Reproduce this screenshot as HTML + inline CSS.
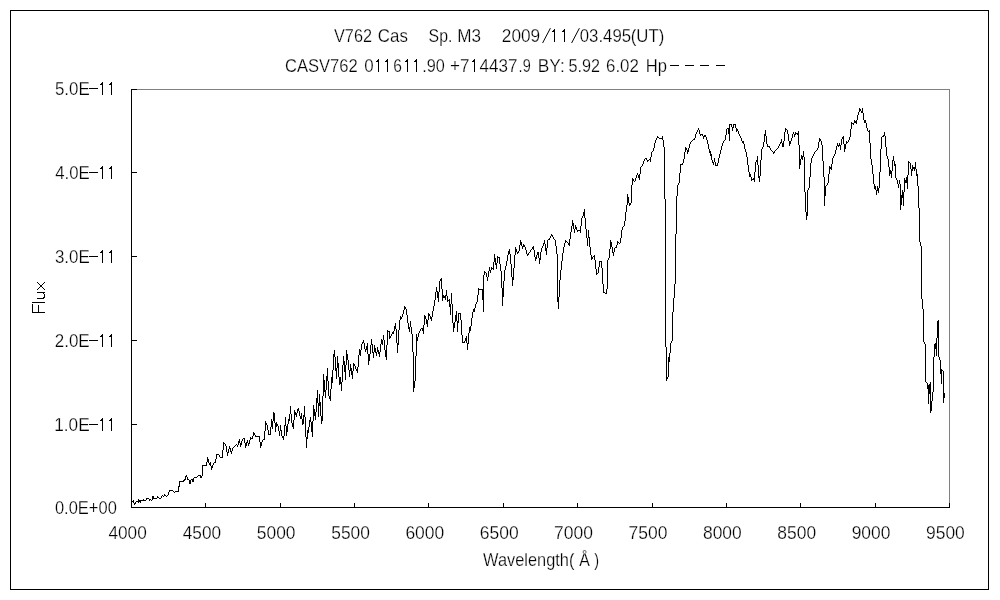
<!DOCTYPE html>
<html><head><meta charset="utf-8"><title>V762 Cas spectrum</title>
<style>
html,body{margin:0;padding:0;background:#fff;}
body{width:1000px;height:600px;overflow:hidden;font-family:"Liberation Sans",sans-serif;}
svg{display:block;}
text{font-family:"Liberation Sans",sans-serif;fill:#000;stroke:#fff;stroke-width:0.25px;}
</style></head><body>
<svg width="1000" height="600" viewBox="0 0 1000 600">
<rect x="0" y="0" width="1000" height="600" fill="#fff"/>
<!-- outer frame -->
<rect x="10.5" y="10.5" width="978" height="579" fill="none" stroke="#000" stroke-width="1" shape-rendering="crispEdges"/>
<!-- plot frame: gray top/right, black left/bottom -->
<rect x="131" y="89" width="819" height="1" fill="#808080"/>
<rect x="949" y="89" width="1" height="419" fill="#808080"/>
<rect x="131" y="89" width="1" height="419" fill="#000"/>
<rect x="131" y="507" width="819" height="1" fill="#000"/>
<rect x="132" y="89" width="5" height="1" fill="#000"/><rect x="132" y="172" width="5" height="1" fill="#000"/><rect x="132" y="256" width="5" height="1" fill="#000"/><rect x="132" y="340" width="5" height="1" fill="#000"/><rect x="132" y="424" width="5" height="1" fill="#000"/><rect x="132" y="507" width="5" height="1" fill="#000"/><rect x="131" y="503" width="1" height="4" fill="#000"/><rect x="205" y="503" width="1" height="4" fill="#000"/><rect x="280" y="503" width="1" height="4" fill="#000"/><rect x="354" y="503" width="1" height="4" fill="#000"/><rect x="428" y="503" width="1" height="4" fill="#000"/><rect x="503" y="503" width="1" height="4" fill="#000"/><rect x="577" y="503" width="1" height="4" fill="#000"/><rect x="652" y="503" width="1" height="4" fill="#000"/><rect x="726" y="503" width="1" height="4" fill="#000"/><rect x="800" y="503" width="1" height="4" fill="#000"/><rect x="875" y="503" width="1" height="4" fill="#000"/><rect x="949" y="503" width="1" height="4" fill="#000"/>
<!-- spectrum -->
<path fill="#000" shape-rendering="crispEdges" d="M132 501h1v1h-1zM133 500h1v3h-1zM134 503h1v2h-1zM135 502h1v2h-1zM136 501h1v1h-1zM137 501h1v1h-1zM138 499h1v4h-1zM139 500h1v2h-1zM140 500h1v3h-1zM141 500h1v1h-1zM142 500h1v1h-1zM143 499h1v2h-1zM144 500h1v1h-1zM145 500h1v1h-1zM146 498h1v2h-1zM147 498h1v1h-1zM148 498h1v1h-1zM149 499h1v2h-1zM150 499h1v1h-1zM151 500h1v1h-1zM152 496h1v4h-1zM153 496h1v3h-1zM154 498h1v1h-1zM155 498h1v1h-1zM156 498h1v1h-1zM157 496h1v2h-1zM158 497h1v1h-1zM159 498h1v1h-1zM160 498h1v1h-1zM161 496h1v2h-1zM162 495h1v1h-1zM163 496h1v1h-1zM164 494h1v2h-1zM165 495h1v1h-1zM166 496h1v1h-1zM167 495h1v1h-1zM168 492h1v3h-1zM169 490h1v2h-1zM170 490h1v1h-1zM171 490h1v1h-1zM172 490h1v1h-1zM173 491h1v1h-1zM174 492h1v1h-1zM175 491h1v1h-1zM176 491h1v1h-1zM177 491h1v1h-1zM178 486h1v6h-1zM179 481h1v6h-1zM180 481h1v1h-1zM181 481h1v1h-1zM182 481h1v1h-1zM183 480h1v2h-1zM184 479h1v2h-1zM185 476h1v4h-1zM186 475h1v2h-1zM187 477h1v3h-1zM188 479h1v1h-1zM189 480h1v4h-1zM190 480h1v4h-1zM191 479h1v1h-1zM192 479h1v3h-1zM193 478h1v4h-1zM194 477h1v1h-1zM195 477h1v1h-1zM196 477h1v1h-1zM197 476h1v1h-1zM198 475h1v1h-1zM199 475h1v1h-1zM200 475h1v3h-1zM201 476h1v2h-1zM202 465h1v11h-1zM203 465h1v1h-1zM204 465h1v1h-1zM205 465h1v1h-1zM206 462h1v4h-1zM207 457h1v5h-1zM208 459h1v4h-1zM209 463h1v2h-1zM210 462h1v4h-1zM211 466h1v4h-1zM212 465h1v3h-1zM213 463h1v2h-1zM214 462h1v1h-1zM215 459h1v4h-1zM216 454h1v5h-1zM217 454h1v1h-1zM218 454h1v1h-1zM219 455h1v2h-1zM220 457h1v1h-1zM221 457h1v1h-1zM222 450h1v8h-1zM223 442h1v8h-1zM224 443h1v1h-1zM225 444h1v2h-1zM226 446h1v6h-1zM227 452h1v4h-1zM228 449h1v4h-1zM229 446h1v3h-1zM230 448h1v4h-1zM231 451h1v3h-1zM232 448h1v3h-1zM233 447h1v1h-1zM234 446h1v1h-1zM235 445h1v1h-1zM236 444h1v1h-1zM237 445h1v2h-1zM238 441h1v4h-1zM239 439h1v4h-1zM240 443h1v4h-1zM241 441h1v4h-1zM242 439h1v2h-1zM243 438h1v1h-1zM244 438h1v5h-1zM245 443h1v5h-1zM246 442h1v4h-1zM247 440h1v3h-1zM248 443h1v3h-1zM249 440h1v4h-1zM250 437h1v3h-1zM251 438h1v1h-1zM252 436h1v3h-1zM253 432h1v4h-1zM254 433h1v2h-1zM255 435h1v2h-1zM256 436h1v1h-1zM257 436h1v1h-1zM258 436h1v1h-1zM259 436h1v6h-1zM260 442h1v6h-1zM261 442h1v4h-1zM262 440h1v2h-1zM263 439h1v1h-1zM264 431h1v9h-1zM265 421h1v10h-1zM266 423h1v2h-1zM267 425h1v5h-1zM268 430h1v5h-1zM269 434h1v1h-1zM270 427h1v8h-1zM271 419h1v8h-1zM272 421h1v8h-1zM273 412h1v9h-1zM274 413h1v10h-1zM275 423h1v9h-1zM276 422h1v5h-1zM277 424h1v2h-1zM278 426h1v5h-1zM279 431h1v5h-1zM280 425h1v6h-1zM281 430h1v6h-1zM282 436h1v2h-1zM283 436h1v4h-1zM284 425h1v11h-1zM285 417h1v9h-1zM286 426h1v10h-1zM287 424h1v8h-1zM288 419h1v5h-1zM289 414h1v7h-1zM290 406h1v8h-1zM291 414h1v9h-1zM292 423h1v4h-1zM293 420h1v9h-1zM294 410h1v10h-1zM295 412h1v3h-1zM296 413h1v4h-1zM297 409h1v4h-1zM298 408h1v3h-1zM299 411h1v5h-1zM300 416h1v3h-1zM301 413h1v6h-1zM302 419h1v6h-1zM303 415h1v9h-1zM304 406h1v11h-1zM305 417h1v20h-1zM306 437h1v11h-1zM307 430h1v9h-1zM308 427h1v6h-1zM309 420h1v7h-1zM310 417h1v5h-1zM311 422h1v10h-1zM312 421h1v16h-1zM313 405h1v16h-1zM314 409h1v7h-1zM315 412h1v8h-1zM316 398h1v14h-1zM317 390h1v13h-1zM318 403h1v14h-1zM319 394h1v12h-1zM320 402h1v14h-1zM321 416h1v8h-1zM322 396h1v25h-1zM323 374h1v22h-1zM324 380h1v12h-1zM325 390h1v8h-1zM326 376h1v14h-1zM327 368h1v13h-1zM328 381h1v15h-1zM329 396h1v3h-1zM330 389h1v12h-1zM331 377h1v12h-1zM332 370h1v13h-1zM333 354h1v16h-1zM334 350h1v7h-1zM335 357h1v14h-1zM336 368h1v11h-1zM337 356h1v12h-1zM338 363h1v14h-1zM339 377h1v8h-1zM340 377h1v7h-1zM341 382h1v9h-1zM342 365h1v17h-1zM343 356h1v9h-1zM344 361h1v11h-1zM345 365h1v15h-1zM346 350h1v15h-1zM347 354h1v6h-1zM348 360h1v10h-1zM349 370h1v7h-1zM350 364h1v7h-1zM351 368h1v7h-1zM352 371h1v8h-1zM353 363h1v8h-1zM354 364h1v2h-1zM355 366h1v3h-1zM356 369h1v2h-1zM357 367h1v6h-1zM358 355h1v12h-1zM359 349h1v6h-1zM360 350h1v6h-1zM361 344h1v6h-1zM362 342h1v2h-1zM363 340h1v3h-1zM364 343h1v6h-1zM365 349h1v3h-1zM366 346h1v4h-1zM367 343h1v11h-1zM368 354h1v11h-1zM369 354h1v7h-1zM370 345h1v9h-1zM371 339h1v6h-1zM372 344h1v9h-1zM373 352h1v6h-1zM374 345h1v7h-1zM375 348h1v5h-1zM376 352h1v4h-1zM377 347h1v5h-1zM378 350h1v4h-1zM379 352h1v5h-1zM380 344h1v8h-1zM381 339h1v5h-1zM382 340h1v5h-1zM383 335h1v5h-1zM384 340h1v10h-1zM385 350h1v7h-1zM386 345h1v15h-1zM387 330h1v15h-1zM388 331h1v1h-1zM389 331h1v8h-1zM390 336h1v2h-1zM391 334h1v2h-1zM392 332h1v2h-1zM393 331h1v3h-1zM394 326h1v5h-1zM395 323h1v6h-1zM396 329h1v14h-1zM397 343h1v10h-1zM398 330h1v15h-1zM399 320h1v10h-1zM400 316h1v4h-1zM401 317h1v2h-1zM402 314h1v3h-1zM403 310h1v4h-1zM404 306h1v4h-1zM405 307h1v2h-1zM406 309h1v6h-1zM407 315h1v8h-1zM408 323h1v6h-1zM409 327h1v5h-1zM410 321h1v6h-1zM411 327h1v7h-1zM412 334h1v18h-1zM413 352h1v40h-1zM414 381h1v7h-1zM415 356h1v25h-1zM416 334h1v22h-1zM417 337h1v4h-1zM418 333h1v4h-1zM419 331h1v2h-1zM420 329h1v2h-1zM421 328h1v1h-1zM422 328h1v3h-1zM423 325h1v9h-1zM424 315h1v10h-1zM425 316h1v3h-1zM426 319h1v5h-1zM427 320h1v7h-1zM428 313h1v7h-1zM429 314h1v2h-1zM430 316h1v3h-1zM431 317h1v4h-1zM432 311h1v6h-1zM433 306h1v5h-1zM434 300h1v6h-1zM435 292h1v8h-1zM436 287h1v5h-1zM437 291h1v7h-1zM438 292h1v10h-1zM439 281h1v11h-1zM440 279h1v2h-1zM441 278h1v11h-1zM442 289h1v12h-1zM443 295h1v3h-1zM444 296h1v2h-1zM445 295h1v5h-1zM446 290h1v6h-1zM447 296h1v6h-1zM448 300h1v1h-1zM449 299h1v8h-1zM450 304h1v11h-1zM451 293h1v11h-1zM452 304h1v19h-1zM453 323h1v9h-1zM454 322h1v6h-1zM455 315h1v7h-1zM456 311h1v10h-1zM457 321h1v11h-1zM458 313h1v10h-1zM459 313h1v1h-1zM460 313h1v7h-1zM461 320h1v15h-1zM462 335h1v8h-1zM463 342h1v1h-1zM464 341h1v2h-1zM465 338h1v3h-1zM466 336h1v7h-1zM467 343h1v7h-1zM468 333h1v11h-1zM469 327h1v6h-1zM470 326h1v5h-1zM471 318h1v8h-1zM472 312h1v6h-1zM473 309h1v3h-1zM474 308h1v4h-1zM475 304h1v4h-1zM476 302h1v2h-1zM477 295h1v7h-1zM478 288h1v7h-1zM479 289h1v1h-1zM480 289h1v1h-1zM481 289h1v1h-1zM482 289h1v11h-1zM483 275h1v37h-1zM484 271h1v4h-1zM485 272h1v1h-1zM486 273h1v4h-1zM487 277h1v4h-1zM488 271h1v6h-1zM489 267h1v4h-1zM490 270h1v3h-1zM491 267h1v3h-1zM492 268h1v1h-1zM493 262h1v8h-1zM494 254h1v8h-1zM495 258h1v7h-1zM496 263h1v6h-1zM497 256h1v7h-1zM498 257h1v1h-1zM499 257h1v7h-1zM500 264h1v7h-1zM501 271h1v17h-1zM502 288h1v18h-1zM503 281h1v16h-1zM504 270h1v11h-1zM505 266h1v4h-1zM506 261h1v5h-1zM507 255h1v6h-1zM508 251h1v4h-1zM509 249h1v5h-1zM510 254h1v10h-1zM511 264h1v13h-1zM512 277h1v9h-1zM513 268h1v12h-1zM514 255h1v13h-1zM515 247h1v8h-1zM516 249h1v3h-1zM517 252h1v2h-1zM518 251h1v2h-1zM519 245h1v6h-1zM520 240h1v5h-1zM521 242h1v4h-1zM522 246h1v3h-1zM523 244h1v3h-1zM524 245h1v2h-1zM525 247h1v3h-1zM526 250h1v4h-1zM527 254h1v2h-1zM528 253h1v2h-1zM529 252h1v1h-1zM530 250h1v2h-1zM531 249h1v1h-1zM532 247h1v2h-1zM533 246h1v4h-1zM534 250h1v7h-1zM535 257h1v4h-1zM536 255h1v4h-1zM537 252h1v3h-1zM538 252h1v6h-1zM539 258h1v6h-1zM540 252h1v8h-1zM541 248h1v4h-1zM542 246h1v2h-1zM543 243h1v3h-1zM544 240h1v4h-1zM545 244h1v7h-1zM546 248h1v7h-1zM547 240h1v8h-1zM548 239h1v1h-1zM549 238h1v2h-1zM550 236h1v2h-1zM551 234h1v2h-1zM552 235h1v2h-1zM553 237h1v2h-1zM554 239h1v1h-1zM555 240h1v6h-1zM556 246h1v8h-1zM557 254h1v48h-1zM558 297h1v12h-1zM559 280h1v17h-1zM560 270h1v10h-1zM561 261h1v9h-1zM562 253h1v8h-1zM563 247h1v6h-1zM564 243h1v4h-1zM565 240h1v3h-1zM566 241h1v1h-1zM567 242h1v1h-1zM568 243h1v2h-1zM569 239h1v7h-1zM570 232h1v7h-1zM571 226h1v6h-1zM572 220h1v6h-1zM573 223h1v6h-1zM574 229h1v4h-1zM575 225h1v4h-1zM576 227h1v3h-1zM577 230h1v2h-1zM578 230h1v1h-1zM579 230h1v1h-1zM580 226h1v7h-1zM581 218h1v8h-1zM582 216h1v2h-1zM583 212h1v4h-1zM584 209h1v9h-1zM585 218h1v11h-1zM586 229h1v9h-1zM587 238h1v8h-1zM588 230h1v8h-1zM589 237h1v10h-1zM590 247h1v8h-1zM591 255h1v5h-1zM592 257h1v2h-1zM593 256h1v1h-1zM594 255h1v5h-1zM595 260h1v9h-1zM596 269h1v6h-1zM597 273h1v1h-1zM598 267h1v6h-1zM599 261h1v6h-1zM600 261h1v1h-1zM601 261h1v7h-1zM602 268h1v16h-1zM603 284h1v9h-1zM604 292h1v1h-1zM605 293h1v1h-1zM606 289h1v5h-1zM607 260h1v29h-1zM608 258h1v2h-1zM609 249h1v9h-1zM610 240h1v9h-1zM611 242h1v5h-1zM612 247h1v6h-1zM613 252h1v4h-1zM614 248h1v4h-1zM615 247h1v1h-1zM616 245h1v3h-1zM617 241h1v4h-1zM618 242h1v1h-1zM619 243h1v1h-1zM620 238h1v5h-1zM621 230h1v8h-1zM622 227h1v3h-1zM623 226h1v1h-1zM624 221h1v5h-1zM625 212h1v9h-1zM626 205h1v7h-1zM627 194h1v11h-1zM628 197h1v6h-1zM629 203h1v3h-1zM630 203h1v2h-1zM631 185h1v18h-1zM632 178h1v7h-1zM633 179h1v2h-1zM634 181h1v1h-1zM635 178h1v3h-1zM636 175h1v3h-1zM637 173h1v2h-1zM638 175h1v3h-1zM639 174h1v6h-1zM640 167h1v7h-1zM641 166h1v1h-1zM642 164h1v2h-1zM643 161h1v3h-1zM644 159h1v2h-1zM645 158h1v1h-1zM646 158h1v2h-1zM647 160h1v2h-1zM648 160h1v1h-1zM649 159h1v1h-1zM650 157h1v5h-1zM651 152h1v5h-1zM652 151h1v1h-1zM653 148h1v3h-1zM654 143h1v5h-1zM655 140h1v3h-1zM656 138h1v2h-1zM657 136h1v2h-1zM658 137h1v1h-1zM659 138h1v1h-1zM660 138h1v1h-1zM661 138h1v1h-1zM662 136h1v4h-1zM663 140h1v7h-1zM664 147h1v52h-1zM665 199h1v148h-1zM666 347h1v34h-1zM667 377h1v2h-1zM668 357h1v20h-1zM669 353h1v9h-1zM670 343h1v10h-1zM671 341h1v2h-1zM672 312h1v29h-1zM673 298h1v14h-1zM674 284h1v14h-1zM675 234h1v50h-1zM676 196h1v38h-1zM677 185h1v11h-1zM678 183h1v2h-1zM679 173h1v10h-1zM680 164h1v9h-1zM681 164h1v1h-1zM682 163h1v2h-1zM683 159h1v4h-1zM684 152h1v7h-1zM685 147h1v5h-1zM686 148h1v2h-1zM687 150h1v4h-1zM688 148h1v4h-1zM689 144h1v4h-1zM690 142h1v2h-1zM691 141h1v1h-1zM692 140h1v1h-1zM693 139h1v1h-1zM694 138h1v2h-1zM695 134h1v4h-1zM696 132h1v2h-1zM697 130h1v2h-1zM698 128h1v2h-1zM699 130h1v4h-1zM700 134h1v2h-1zM701 134h1v1h-1zM702 134h1v2h-1zM703 136h1v3h-1zM704 135h1v2h-1zM705 135h1v2h-1zM706 137h1v3h-1zM707 140h1v4h-1zM708 144h1v5h-1zM709 149h1v4h-1zM710 151h1v5h-1zM711 154h1v6h-1zM712 160h1v3h-1zM713 162h1v3h-1zM714 158h1v4h-1zM715 162h1v4h-1zM716 165h1v1h-1zM717 163h1v3h-1zM718 158h1v5h-1zM719 154h1v4h-1zM720 150h1v4h-1zM721 146h1v4h-1zM722 143h1v3h-1zM723 141h1v2h-1zM724 140h1v1h-1zM725 135h1v5h-1zM726 129h1v6h-1zM727 128h1v1h-1zM728 128h1v6h-1zM729 124h1v17h-1zM730 124h1v1h-1zM731 124h1v3h-1zM732 127h1v4h-1zM733 124h1v4h-1zM734 124h1v1h-1zM735 124h1v4h-1zM736 128h1v4h-1zM737 129h1v2h-1zM738 131h1v3h-1zM739 134h1v2h-1zM740 136h1v2h-1zM741 138h1v3h-1zM742 141h1v2h-1zM743 141h1v3h-1zM744 144h1v5h-1zM745 149h1v3h-1zM746 152h1v5h-1zM747 157h1v8h-1zM748 165h1v7h-1zM749 172h1v5h-1zM750 174h1v3h-1zM751 177h1v4h-1zM752 179h1v1h-1zM753 178h1v2h-1zM754 172h1v10h-1zM755 162h1v10h-1zM756 160h1v2h-1zM757 156h1v9h-1zM758 165h1v13h-1zM759 176h1v6h-1zM760 160h1v16h-1zM761 149h1v11h-1zM762 147h1v2h-1zM763 142h1v5h-1zM764 134h1v8h-1zM765 130h1v6h-1zM766 136h1v8h-1zM767 144h1v3h-1zM768 146h1v1h-1zM769 146h1v2h-1zM770 148h1v2h-1zM771 150h1v1h-1zM772 151h1v1h-1zM773 152h1v2h-1zM774 151h1v2h-1zM775 150h1v1h-1zM776 149h1v1h-1zM777 148h1v1h-1zM778 146h1v2h-1zM779 144h1v2h-1zM780 142h1v2h-1zM781 139h1v4h-1zM782 143h1v4h-1zM783 141h1v6h-1zM784 132h1v9h-1zM785 128h1v4h-1zM786 129h1v1h-1zM787 130h1v4h-1zM788 134h1v7h-1zM789 141h1v5h-1zM790 141h1v3h-1zM791 138h1v3h-1zM792 134h1v4h-1zM793 132h1v2h-1zM794 134h1v3h-1zM795 132h1v3h-1zM796 133h1v1h-1zM797 133h1v2h-1zM798 131h1v14h-1zM799 145h1v24h-1zM800 159h1v6h-1zM801 155h1v4h-1zM802 156h1v4h-1zM803 151h1v6h-1zM804 157h1v35h-1zM805 192h1v20h-1zM806 212h1v8h-1zM807 190h1v26h-1zM808 188h1v2h-1zM809 177h1v11h-1zM810 163h1v14h-1zM811 158h1v5h-1zM812 156h1v2h-1zM813 154h1v2h-1zM814 152h1v2h-1zM815 151h1v1h-1zM816 150h1v1h-1zM817 148h1v2h-1zM818 142h1v6h-1zM819 138h1v4h-1zM820 139h1v2h-1zM821 141h1v4h-1zM822 145h1v16h-1zM823 161h1v16h-1zM824 177h1v29h-1zM825 186h1v10h-1zM826 185h1v1h-1zM827 183h1v2h-1zM828 174h1v9h-1zM829 166h1v8h-1zM830 167h1v2h-1zM831 164h1v6h-1zM832 158h1v6h-1zM833 156h1v2h-1zM834 154h1v2h-1zM835 150h1v4h-1zM836 146h1v4h-1zM837 143h1v3h-1zM838 145h1v2h-1zM839 143h1v3h-1zM840 145h1v5h-1zM841 139h1v6h-1zM842 137h1v2h-1zM843 136h1v8h-1zM844 144h1v8h-1zM845 144h1v5h-1zM846 141h1v3h-1zM847 142h1v1h-1zM848 140h1v2h-1zM849 137h1v3h-1zM850 129h1v8h-1zM851 122h1v7h-1zM852 123h1v1h-1zM853 123h1v2h-1zM854 120h1v3h-1zM855 121h1v2h-1zM856 120h1v4h-1zM857 115h1v5h-1zM858 112h1v3h-1zM859 108h1v4h-1zM860 109h1v2h-1zM861 111h1v2h-1zM862 108h1v5h-1zM863 113h1v7h-1zM864 120h1v3h-1zM865 120h1v3h-1zM866 123h1v5h-1zM867 128h1v3h-1zM868 131h1v1h-1zM869 130h1v13h-1zM870 143h1v16h-1zM871 159h1v6h-1zM872 165h1v9h-1zM873 174h1v10h-1zM874 184h1v5h-1zM875 186h1v4h-1zM876 190h1v5h-1zM877 186h1v5h-1zM878 188h1v5h-1zM879 172h1v16h-1zM880 149h1v23h-1zM881 137h1v12h-1zM882 136h1v1h-1zM883 135h1v2h-1zM884 132h1v4h-1zM885 136h1v11h-1zM886 147h1v9h-1zM887 156h1v3h-1zM888 159h1v8h-1zM889 167h1v9h-1zM890 170h1v4h-1zM891 171h1v7h-1zM892 160h1v11h-1zM893 156h1v5h-1zM894 161h1v5h-1zM895 164h1v14h-1zM896 178h1v2h-1zM897 180h1v4h-1zM898 184h1v4h-1zM899 180h1v4h-1zM900 184h1v26h-1zM901 195h1v10h-1zM902 190h1v8h-1zM903 192h1v14h-1zM904 178h1v14h-1zM905 180h1v3h-1zM906 177h1v6h-1zM907 175h1v14h-1zM908 161h1v14h-1zM909 162h1v1h-1zM910 163h1v6h-1zM911 169h1v7h-1zM912 165h1v6h-1zM913 167h1v2h-1zM914 167h1v4h-1zM915 162h1v7h-1zM916 169h1v7h-1zM917 174h1v12h-1zM918 186h1v22h-1zM919 208h1v34h-1zM920 242h1v4h-1zM921 246h1v53h-1zM922 299h1v10h-1zM923 309h1v33h-1zM924 342h1v2h-1zM925 344h1v38h-1zM926 382h1v1h-1zM927 383h1v6h-1zM928 385h1v19h-1zM929 384h1v10h-1zM930 382h1v31h-1zM931 401h1v10h-1zM932 392h1v9h-1zM933 357h1v35h-1zM934 344h1v13h-1zM935 343h1v6h-1zM936 338h1v18h-1zM937 321h1v17h-1zM938 320h1v37h-1zM939 357h1v3h-1zM940 360h1v14h-1zM941 369h1v15h-1zM942 370h1v1h-1zM943 371h1v32h-1zM944 393h1v5h-1z"/>
<g style="filter:grayscale(1)">
<text x="333.96" y="42.0" font-size="18.5" textLength="38.09" lengthAdjust="spacingAndGlyphs">V762</text>
<text x="377.75" y="42.0" font-size="18.5" textLength="30.12" lengthAdjust="spacingAndGlyphs">Cas</text>
<text x="428.61" y="42.0" font-size="18.5" textLength="23.82" lengthAdjust="spacingAndGlyphs">Sp.</text>
<text x="457.17" y="42.0" font-size="18.5" textLength="23.79" lengthAdjust="spacingAndGlyphs">M3</text>
<text x="501.84" y="42.0" font-size="18.5" textLength="38.37" lengthAdjust="spacingAndGlyphs">2009</text>
<text x="579.75" y="42.0" font-size="18.5" textLength="51.36" lengthAdjust="spacingAndGlyphs">03.495</text>
<text x="630.77" y="42.0" font-size="18.5" textLength="33.53" lengthAdjust="spacingAndGlyphs">(UT)</text>
<text x="284.97" y="72.0" font-size="18.5" textLength="72.81" lengthAdjust="spacingAndGlyphs">CASV762</text>
<text x="364.29" y="72.0" font-size="18.5" textLength="9.43" lengthAdjust="spacingAndGlyphs">0</text>
<text x="393.22" y="72.0" font-size="18.5" textLength="8.68" lengthAdjust="spacingAndGlyphs">6</text>
<text x="422.26" y="72.0" font-size="18.5" textLength="22.60" lengthAdjust="spacingAndGlyphs">.90</text>
<text x="450.00" y="72.0" font-size="18.5" textLength="19.48" lengthAdjust="spacingAndGlyphs">+7</text>
<text x="479.52" y="72.0" font-size="18.5" textLength="37.97" lengthAdjust="spacingAndGlyphs">4437</text>
<text x="518.61" y="72.0" font-size="18.5" textLength="12.09" lengthAdjust="spacingAndGlyphs">.9</text>
<text x="537.75" y="72.0" font-size="18.5" textLength="27.01" lengthAdjust="spacingAndGlyphs">BY:</text>
<text x="568.57" y="72.0" font-size="18.5" textLength="31.47" lengthAdjust="spacingAndGlyphs">5.92</text>
<text x="606.06" y="72.0" font-size="18.5" textLength="32.82" lengthAdjust="spacingAndGlyphs">6.02</text>
<text x="645.82" y="72.0" font-size="18.5" textLength="21.24" lengthAdjust="spacingAndGlyphs">Hp</text>
<text x="54.94" y="95.0" font-size="18.5" textLength="34.74" lengthAdjust="spacingAndGlyphs">5.0E</text>
<text x="55.23" y="179.0" font-size="18.5" textLength="34.45" lengthAdjust="spacingAndGlyphs">4.0E</text>
<text x="54.94" y="263.0" font-size="18.5" textLength="34.74" lengthAdjust="spacingAndGlyphs">3.0E</text>
<text x="54.75" y="347.0" font-size="18.5" textLength="34.94" lengthAdjust="spacingAndGlyphs">2.0E</text>
<text x="54.26" y="431.0" font-size="18.5" textLength="35.44" lengthAdjust="spacingAndGlyphs">1.0E</text>
<text x="54.96" y="514.0" font-size="18.5" textLength="61.85" lengthAdjust="spacingAndGlyphs">0.0E+00</text>
<text x="108.42" y="539.0" font-size="18.5" textLength="38.40" lengthAdjust="spacingAndGlyphs">4000</text>
<text x="182.78" y="539.0" font-size="18.5" textLength="38.40" lengthAdjust="spacingAndGlyphs">4500</text>
<text x="256.85" y="539.0" font-size="18.5" textLength="38.70" lengthAdjust="spacingAndGlyphs">5000</text>
<text x="331.22" y="539.0" font-size="18.5" textLength="38.70" lengthAdjust="spacingAndGlyphs">5500</text>
<text x="405.38" y="539.0" font-size="18.5" textLength="38.90" lengthAdjust="spacingAndGlyphs">6000</text>
<text x="479.75" y="539.0" font-size="18.5" textLength="38.90" lengthAdjust="spacingAndGlyphs">6500</text>
<text x="554.11" y="539.0" font-size="18.5" textLength="38.90" lengthAdjust="spacingAndGlyphs">7000</text>
<text x="628.47" y="539.0" font-size="18.5" textLength="38.90" lengthAdjust="spacingAndGlyphs">7500</text>
<text x="702.94" y="539.0" font-size="18.5" textLength="38.80" lengthAdjust="spacingAndGlyphs">8000</text>
<text x="777.30" y="539.0" font-size="18.5" textLength="38.80" lengthAdjust="spacingAndGlyphs">8500</text>
<text x="851.66" y="539.0" font-size="18.5" textLength="38.80" lengthAdjust="spacingAndGlyphs">9000</text>
<text x="926.03" y="539.0" font-size="18.5" textLength="38.80" lengthAdjust="spacingAndGlyphs">9500</text>
<text x="483.11" y="565.9" font-size="18.5" textLength="91.26" lengthAdjust="spacingAndGlyphs">Wavelength(</text>
<text x="579.31" y="565.9" font-size="18.5" textLength="10.58" lengthAdjust="spacingAndGlyphs">Å</text>
<text x="594.32" y="565.9" font-size="18.5" textLength="4.87" lengthAdjust="spacingAndGlyphs">)</text>
</g>
<path d="M542.6 43 L550.4 28.2 M571.6 43 L579.4 28.2" stroke="#000" stroke-width="1" fill="none"/><rect x="670" y="65" width="9" height="1" fill="#000"/><rect x="685" y="65" width="9" height="1" fill="#000"/><rect x="700" y="65" width="9" height="1" fill="#000"/><rect x="716" y="65" width="9" height="1" fill="#000"/>
<g fill="#000" shape-rendering="crispEdges"><rect x="32" y="312" width="13" height="1"/><rect x="32" y="304" width="1" height="9"/><rect x="38" y="305" width="1" height="8"/><rect x="32" y="302" width="13" height="1"/><rect x="37" y="292" width="8" height="1"/><rect x="37" y="298" width="7" height="1"/><rect x="44" y="294" width="1" height="4"/><rect x="43" y="293" width="1" height="1"/><rect x="43" y="297" width="1" height="1"/><rect x="37" y="282" width="1" height="1"/><rect x="44" y="282" width="1" height="1"/><rect x="38" y="283" width="1" height="1"/><rect x="43" y="283" width="1" height="1"/><rect x="39" y="284" width="1" height="1"/><rect x="42" y="284" width="1" height="1"/><rect x="40" y="285" width="1" height="1"/><rect x="41" y="285" width="1" height="1"/><rect x="41" y="286" width="1" height="1"/><rect x="40" y="286" width="1" height="1"/><rect x="42" y="287" width="1" height="1"/><rect x="39" y="287" width="1" height="1"/><rect x="43" y="288" width="1" height="1"/><rect x="38" y="288" width="1" height="1"/><rect x="44" y="289" width="1" height="1"/><rect x="37" y="289" width="1" height="1"/></g>
<g fill="#000" shape-rendering="crispEdges"><rect x="554" y="29" width="1" height="13"/><rect x="553" y="30" width="1" height="2"/><rect x="552" y="31" width="1" height="1"/><rect x="564" y="29" width="1" height="13"/><rect x="563" y="30" width="1" height="2"/><rect x="562" y="31" width="1" height="1"/><rect x="378" y="59" width="1" height="13"/><rect x="377" y="60" width="1" height="2"/><rect x="376" y="61" width="1" height="1"/><rect x="387" y="59" width="1" height="13"/><rect x="386" y="60" width="1" height="2"/><rect x="385" y="61" width="1" height="1"/><rect x="407" y="59" width="1" height="13"/><rect x="406" y="60" width="1" height="2"/><rect x="405" y="61" width="1" height="1"/><rect x="416" y="59" width="1" height="13"/><rect x="415" y="60" width="1" height="2"/><rect x="414" y="61" width="1" height="1"/><rect x="474" y="59" width="1" height="13"/><rect x="473" y="60" width="1" height="2"/><rect x="472" y="61" width="1" height="1"/><rect x="89" y="88" width="9" height="1"/><rect x="102" y="82" width="1" height="13"/><rect x="101" y="83" width="1" height="2"/><rect x="100" y="84" width="1" height="1"/><rect x="111" y="82" width="1" height="13"/><rect x="110" y="83" width="1" height="2"/><rect x="109" y="84" width="1" height="1"/><rect x="89" y="172" width="9" height="1"/><rect x="102" y="166" width="1" height="13"/><rect x="101" y="167" width="1" height="2"/><rect x="100" y="168" width="1" height="1"/><rect x="111" y="166" width="1" height="13"/><rect x="110" y="167" width="1" height="2"/><rect x="109" y="168" width="1" height="1"/><rect x="89" y="256" width="9" height="1"/><rect x="102" y="250" width="1" height="13"/><rect x="101" y="251" width="1" height="2"/><rect x="100" y="252" width="1" height="1"/><rect x="111" y="250" width="1" height="13"/><rect x="110" y="251" width="1" height="2"/><rect x="109" y="252" width="1" height="1"/><rect x="89" y="340" width="9" height="1"/><rect x="102" y="334" width="1" height="13"/><rect x="101" y="335" width="1" height="2"/><rect x="100" y="336" width="1" height="1"/><rect x="111" y="334" width="1" height="13"/><rect x="110" y="335" width="1" height="2"/><rect x="109" y="336" width="1" height="1"/><rect x="89" y="424" width="9" height="1"/><rect x="102" y="418" width="1" height="13"/><rect x="101" y="419" width="1" height="2"/><rect x="100" y="420" width="1" height="1"/><rect x="111" y="418" width="1" height="13"/><rect x="110" y="419" width="1" height="2"/><rect x="109" y="420" width="1" height="1"/></g>
</svg>
</body></html>
